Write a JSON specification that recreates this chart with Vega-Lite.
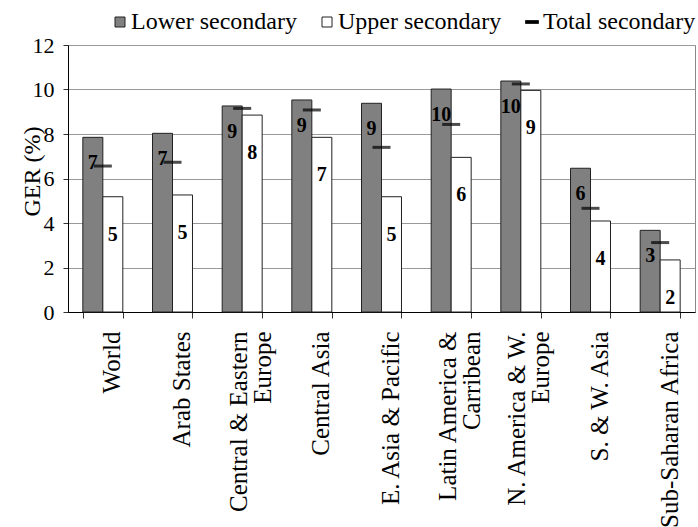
{
  "$schema": "https://vega.github.io/schema/vega-lite/v6.json",
  "width": 627,
  "height": 267,
  "autosize": "none",
  "padding": {"left": 68, "top": 45, "right": 3, "bottom": 215},
  "background": "white",
  "config": {
    "font": "Liberation Serif",
    "view": {"stroke": "#888"},
    "legend": {"labelFont": "Liberation Serif", "labelLimit": 400}
  },
  "data": {"values": [
    {"region": "World", "series": "Lower secondary", "value": 7.85, "label": "7"},
    {"region": "World", "series": "Upper secondary", "value": 5.18, "label": "5"},
    {"region": "World", "series": "Total secondary", "value": 6.56, "label": ""},
    {"region": "Arab States", "series": "Lower secondary", "value": 8.03, "label": "7"},
    {"region": "Arab States", "series": "Upper secondary", "value": 5.26, "label": "5"},
    {"region": "Arab States", "series": "Total secondary", "value": 6.73, "label": ""},
    {"region": "Central & Eastern Europe", "series": "Lower secondary", "value": 9.26, "label": "9"},
    {"region": "Central & Eastern Europe", "series": "Upper secondary", "value": 8.85, "label": "8"},
    {"region": "Central & Eastern Europe", "series": "Total secondary", "value": 9.15, "label": ""},
    {"region": "Central Asia", "series": "Lower secondary", "value": 9.53, "label": "9"},
    {"region": "Central Asia", "series": "Upper secondary", "value": 7.85, "label": "7"},
    {"region": "Central Asia", "series": "Total secondary", "value": 9.08, "label": ""},
    {"region": "E. Asia & Pacific", "series": "Lower secondary", "value": 9.38, "label": "9"},
    {"region": "E. Asia & Pacific", "series": "Upper secondary", "value": 5.18, "label": "5"},
    {"region": "E. Asia & Pacific", "series": "Total secondary", "value": 7.4, "label": ""},
    {"region": "Latin America & Carribean", "series": "Lower secondary", "value": 10.02, "label": "10"},
    {"region": "Latin America & Carribean", "series": "Upper secondary", "value": 6.95, "label": "6"},
    {"region": "Latin America & Carribean", "series": "Total secondary", "value": 8.43, "label": ""},
    {"region": "N. America & W. Europe", "series": "Lower secondary", "value": 10.38, "label": "10"},
    {"region": "N. America & W. Europe", "series": "Upper secondary", "value": 9.96, "label": "9"},
    {"region": "N. America & W. Europe", "series": "Total secondary", "value": 10.25, "label": ""},
    {"region": "S. & W. Asia", "series": "Lower secondary", "value": 6.46, "label": "6"},
    {"region": "S. & W. Asia", "series": "Upper secondary", "value": 4.09, "label": "4"},
    {"region": "S. & W. Asia", "series": "Total secondary", "value": 4.66, "label": ""},
    {"region": "Sub-Saharan Africa", "series": "Lower secondary", "value": 3.67, "label": "3"},
    {"region": "Sub-Saharan Africa", "series": "Upper secondary", "value": 2.34, "label": "2"},
    {"region": "Sub-Saharan Africa", "series": "Total secondary", "value": 3.12, "label": ""}
  ]},
  "encoding": {
    "x": {
      "field": "region", "type": "nominal", "sort": null,
      "scale": {"paddingInner": 0.426, "paddingOuter": 0.213},
      "axis": {
        "title": null, "labelAngle": -90, "labelFontSize": 25, "labelColor": "black",
        "labelPadding": 13, "tickSize": 6, "tickBand": "extent", "tickColor": "#333",
        "domainColor": "black", "labelLineHeight": 24, "labelLimit": 300,
        "labelFont": "Liberation Serif",
        "labelOffset": {"condition": {"test": "indexof(['Central & Eastern Europe', 'Latin America & Carribean', 'N. America & W. Europe'], datum.value) >= 0", "value": -4}, "value": 9},
        "labelExpr": "isValid(datum.value) ? split(replace(replace(replace(datum.value, 'Eastern Europe', 'Eastern|Europe'), 'America & Carribean', 'America &|Carribean'), '& W. Europe', '& W.|Europe'), '|') : ''"
      }
    },
    "y": {
      "field": "value", "type": "quantitative",
      "scale": {"domain": [0, 12]},
      "axis": {
        "values": [0, 2, 4, 6, 8, 10, 12], "title": "GER (%)", "titleFontSize": 24,
        "titleFontWeight": "normal", "titleColor": "black", "titleFont": "Liberation Serif",
        "titleX": -36, "titleY": 126, "titleAngle": -90, "titleAlign": "center", "titleBaseline": "middle",
        "labelFontSize": 22, "labelColor": "black", "labelPadding": 9, "labelFlush": false,
        "labelFont": "Liberation Serif",
        "tickSize": 5, "tickColor": "#333", "domainColor": "black", "gridColor": "#999"
      }
    }
  },
  "layer": [
    {
      "transform": [{"filter": "datum.series != 'Total secondary'"}],
      "mark": {"type": "bar", "stroke": "#222", "strokeWidth": 1},
      "encoding": {
        "xOffset": {"field": "series", "type": "nominal", "scale": {"domain": ["Lower secondary", "Upper secondary"]}},
        "fill": {
          "field": "series", "type": "nominal",
          "scale": {"domain": ["Lower secondary", "Upper secondary", "Total secondary"], "range": ["#808080", "#ffffff", "#000000"]},
          "legend": {
            "orient": "none", "legendX": 40, "legendY": -35, "direction": "horizontal", "title": null,
            "labelFontSize": 24, "labelFont": "Liberation Serif", "labelColor": "black", "labelLimit": 400,
            "symbolType": "square", "symbolSize": 100, "symbolStrokeColor": "#222", "symbolStrokeWidth": 1,
            "labelOffset": -1, "columnPadding": 18,
            "encode": {"symbols": {"update": {"shape": {"signal": "datum.value == 'Total secondary' ? 'M-1.3,-0.3H1.3V0.3H-1.3Z' : 'square'"}}}}
          }
        }
      }
    },
    {
      "transform": [{"filter": "datum.series == 'Lower secondary'"}],
      "mark": {"type": "text", "fontWeight": "bold", "fontSize": 20, "baseline": "middle", "dy": 26, "color": "black", "font": "Liberation Serif"},
      "encoding": {
        "xOffset": {"field": "series", "type": "nominal", "scale": {"domain": ["Lower secondary", "Upper secondary"]}},
        "text": {"field": "label"}
      }
    },
    {
      "transform": [{"filter": "datum.series == 'Upper secondary'"}],
      "mark": {"type": "text", "fontWeight": "bold", "fontSize": 20, "baseline": "middle", "dy": 38, "color": "black", "font": "Liberation Serif"},
      "encoding": {
        "xOffset": {"field": "series", "type": "nominal", "scale": {"domain": ["Lower secondary", "Upper secondary"]}},
        "text": {"field": "label"}
      }
    },
    {
      "transform": [{"filter": "datum.series == 'Total secondary'"}],
      "mark": {"type": "tick", "size": 18, "thickness": 3, "color": "black"},
      "encoding": {}
    }
  ]
}
